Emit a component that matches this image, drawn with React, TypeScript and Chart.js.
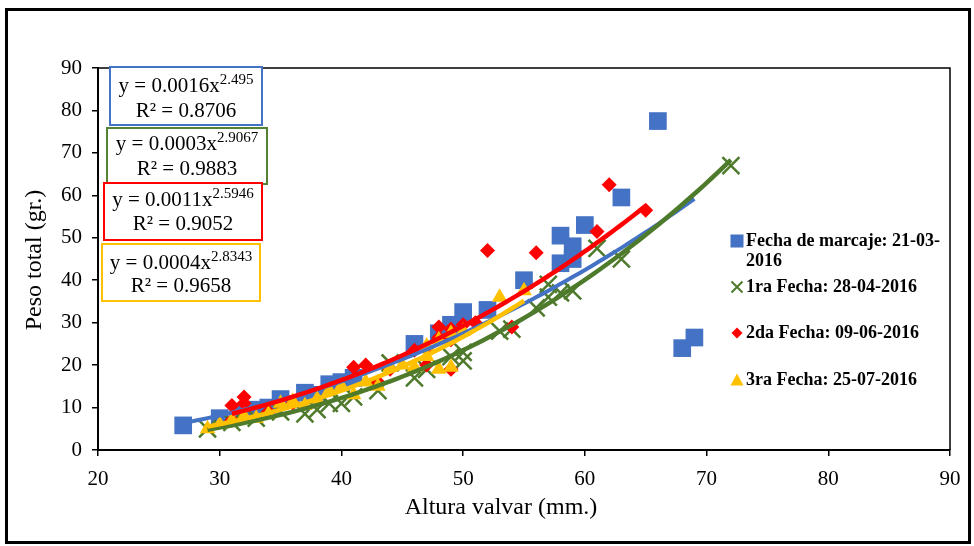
import React, { useEffect, useRef } from "react";
import { Chart, registerables } from "chart.js";
Chart.register(...registerables);

// ---- data ----
const blueX = [27, 30, 32, 33, 34, 35, 37, 38, 39, 40, 41, 46, 48, 49, 50, 52, 55, 58, 58, 59, 59, 60, 63, 66, 68, 69];
const blueY = [5.8, 7.5, 8.5, 9.5, 10, 12, 13.5, 13, 15.5, 16, 17, 25, 27.5, 29.5, 32.5, 33, 40, 44, 50.5, 48, 45, 53, 59.5, 77.5, 24, 26.5];

const greenX = [29, 31, 33, 35, 37, 38, 39, 40, 41, 43, 44, 46, 47, 49, 50, 50, 53, 54, 56, 57, 57, 58, 59, 61, 63, 72];
const greenY = [5, 6.5, 7.5, 9, 8.5, 9.5, 11, 11, 12.5, 14, 20.5, 17, 19, 22, 21, 23, 28, 28.5, 33.5, 36, 39, 37, 37.5, 47.5, 45, 67];

const redX = [31, 31, 32, 32, 34, 36, 41, 42, 43, 44, 46, 47, 47, 48, 48, 49, 49, 49, 50, 51, 52, 54, 56, 61, 62, 65];
const redY = [10.5, 7, 12.5, 11, 9, 11, 19.5, 20, 16, 19, 23.5, 24, 20, 29, 26.5, 28.5, 26, 19, 29.5, 30, 47, 29, 46.5, 51.5, 62.5, 56.5];

const yellowX = [29, 30, 31, 32, 33, 34, 35, 36, 37, 38, 39, 40, 41, 42, 43, 44, 45, 46, 47, 47, 48, 48, 49, 49, 50, 53, 55];
const yellowY = [5, 6, 7, 8, 7.5, 8.5, 11, 11.5, 10.5, 12, 14, 15, 13, 16, 15, 19.5, 20, 19.5, 24.5, 22, 19, 26, 19.5, 27.5, 28, 36, 37.5];

const seriesNames = [
  ["Fecha de marcaje: 21-03-", "2016"],
  ["1ra Fecha: 28-04-2016"],
  ["2da Fecha: 09-06-2016"],
  ["3ra Fecha: 25-07-2016"],
];
const eqCoef = ["0.0016", "0.0003", "0.0011", "0.0004"];
const eqExp = ["2.495", "2.9067", "2.5946", "2.8343"];
const eqR2 = ["0.8706", "0.9883", "0.9052", "0.9658"];

const xTicksMin = 20, xTicksMax = 90, yTicksMin = 0, yTicksMax = 90, tickStep = 10;
const xTitle = "Altura valvar (mm.)";
const yTitle = "Peso total (gr.)";

// ---- styles ----
const BLUE = "#4472C4";
const GREEN = "#4E7A2C";
const RED = "#FF0000";
const YELLOW = "#FFC000";
const SERIF = '"Liberation Serif", "Times New Roman", serif';

function pts(xs: number[], ys: number[]) {
  return xs.map((x, i) => ({ x, y: ys[i] }));
}

// power trendline (least squares in log-log space), like a spreadsheet power trendline
function powerTrend(xs: number[], ys: number[]) {
  const n = xs.length;
  let sx = 0, sy = 0, sxx = 0, sxy = 0;
  for (let i = 0; i < n; i++) {
    const lx = Math.log(xs[i]), ly = Math.log(ys[i]);
    sx += lx; sy += ly; sxx += lx * lx; sxy += lx * ly;
  }
  const b = (n * sxy - sx * sy) / (n * sxx - sx * sx);
  const a = Math.exp((sy - b * sx) / n);
  const lo = Math.min(...xs), hi = Math.max(...xs);
  const out: { x: number; y: number }[] = [];
  const steps = 80;
  for (let i = 0; i <= steps; i++) {
    const x = lo + ((hi - lo) * i) / steps;
    out.push({ x, y: a * Math.pow(x, b) });
  }
  return out;
}

const decorPlugin = {
  id: "decor",
  afterDraw(chart: any) {
    const ctx = chart.ctx as CanvasRenderingContext2D;
    const ca = chart.chartArea;
    ctx.save();
    // plot area top/right border
    ctx.strokeStyle = "#000";
    ctx.lineWidth = 1.5;
    ctx.beginPath();
    ctx.moveTo(ca.left, ca.top);
    ctx.lineTo(ca.right, ca.top);
    ctx.lineTo(ca.right, ca.bottom);
    ctx.stroke();

    // outer frame
    ctx.lineWidth = 3;
    ctx.strokeRect(6.5, 9.5, 963, 533);

    // axis titles
    ctx.fillStyle = "#000";
    ctx.font = `24px ${SERIF}`;
    ctx.textAlign = "center";
    ctx.textBaseline = "middle";
    ctx.fillText(xTitle, 501, 508);
    ctx.save();
    ctx.translate(35, 260);
    ctx.rotate(-Math.PI / 2);
    ctx.fillText(yTitle, 0, 0);
    ctx.restore();

    // equation boxes
    const boxes = [
      { x1: 110, y1: 67, x2: 262, y2: 125, c: BLUE, l1: 85, l2: 110 },
      { x1: 107, y1: 128, x2: 267, y2: 184, c: "#548235", l1: 143, l2: 168 },
      { x1: 104, y1: 183, x2: 262, y2: 240, c: RED, l1: 199, l2: 223 },
      { x1: 102, y1: 244, x2: 260, y2: 301, c: YELLOW, l1: 262, l2: 285 },
    ];
    boxes.forEach((b, i) => {
      ctx.fillStyle = "#fff";
      ctx.fillRect(b.x1, b.y1, b.x2 - b.x1, b.y2 - b.y1);
      ctx.strokeStyle = b.c;
      ctx.lineWidth = 2;
      ctx.strokeRect(b.x1, b.y1, b.x2 - b.x1, b.y2 - b.y1);
      const cx = (b.x1 + b.x2) / 2;
      ctx.fillStyle = "#000";
      ctx.textBaseline = "alphabetic";
      const main = `y = ${eqCoef[i]}x`;
      ctx.font = `21px ${SERIF}`;
      const w1 = ctx.measureText(main).width;
      ctx.font = `15px ${SERIF}`;
      const w2 = ctx.measureText(eqExp[i]).width;
      const start = cx - (w1 + w2) / 2;
      ctx.textAlign = "left";
      ctx.font = `21px ${SERIF}`;
      ctx.fillText(main, start, b.l1 + 7);
      ctx.font = `15px ${SERIF}`;
      ctx.fillText(eqExp[i], start + w1, b.l1 - 1);
      ctx.font = `21px ${SERIF}`;
      ctx.textAlign = "center";
      ctx.fillText(`R² = ${eqR2[i]}`, cx, b.l2 + 7);
    });

    // legend
    const lx = 737;
    const tx = 746;
    ctx.font = `bold 18px ${SERIF}`;
    ctx.textAlign = "left";
    ctx.textBaseline = "middle";
    ctx.fillStyle = "#000";
    const rows = [241, 287, 333, 380];
    ctx.fillStyle = BLUE;
    ctx.fillRect(lx - 6.5, rows[0] - 6.5, 13, 13);
    ctx.strokeStyle = GREEN;
    ctx.lineWidth = 2;
    ctx.beginPath();
    ctx.moveTo(lx - 5.5, rows[1] - 5.5); ctx.lineTo(lx + 5.5, rows[1] + 5.5);
    ctx.moveTo(lx + 5.5, rows[1] - 5.5); ctx.lineTo(lx - 5.5, rows[1] + 5.5);
    ctx.stroke();
    ctx.fillStyle = RED;
    ctx.beginPath();
    ctx.moveTo(lx, rows[2] - 5.5); ctx.lineTo(lx + 5.5, rows[2]);
    ctx.lineTo(lx, rows[2] + 5.5); ctx.lineTo(lx - 5.5, rows[2]);
    ctx.closePath(); ctx.fill();
    ctx.fillStyle = YELLOW;
    ctx.beginPath();
    ctx.moveTo(lx, rows[3] - 6.5); ctx.lineTo(lx + 6.5, rows[3] + 5.5);
    ctx.lineTo(lx - 6.5, rows[3] + 5.5);
    ctx.closePath(); ctx.fill();

    ctx.fillStyle = "#000";
    ctx.fillText(seriesNames[0][0], tx, rows[0]);
    ctx.fillText(seriesNames[0][1], tx, rows[0] + 20);
    ctx.fillText(seriesNames[1][0], tx, rows[1]);
    ctx.fillText(seriesNames[2][0], tx, rows[2]);
    ctx.fillText(seriesNames[3][0], tx, rows[3]);
    ctx.restore();
  },
};

export default function App() {
  const ref = useRef<HTMLCanvasElement | null>(null);
  useEffect(() => {
    if (!ref.current) return;
    const lineBase = { type: "scatter" as const, showLine: true, pointRadius: 0, borderWidth: 4.5, fill: false, tension: 0 };
    const chart = new Chart(ref.current, {
      type: "scatter",
      data: {
        datasets: [
          { ...lineBase, label: "t0", data: powerTrend(blueX, blueY), borderColor: BLUE, borderWidth: 4, order: 3 },
          { ...lineBase, label: "t1", data: powerTrend(greenX, greenY), borderColor: GREEN, order: 2 },
          { ...lineBase, label: "t2", data: powerTrend(redX, redY), borderColor: RED, order: 1 },
          { ...lineBase, label: "t3", data: powerTrend(yellowX, yellowY), borderColor: YELLOW, order: 0 },
          { label: seriesNames[0].join(""), data: pts(blueX, blueY), pointStyle: "rect", pointRadius: 12.5, backgroundColor: BLUE, borderColor: BLUE, borderWidth: 0, order: 7 },
          { label: seriesNames[1][0], data: pts(greenX, greenY), pointStyle: "crossRot", pointRadius: 12, backgroundColor: GREEN, borderColor: GREEN, borderWidth: 2.5, order: 6 },
          { label: seriesNames[2][0], data: pts(redX, redY), pointStyle: "rectRot", pointRadius: 7.5, backgroundColor: RED, borderColor: RED, borderWidth: 0, order: 5 },
          { label: seriesNames[3][0], data: pts(yellowX, yellowY), pointStyle: "triangle", pointRadius: 9, backgroundColor: YELLOW, borderColor: YELLOW, borderWidth: 0, order: 4 },
        ],
      },
      options: {
        animation: false,
        responsive: false,
        devicePixelRatio: 1,
        layout: { padding: { top: 68, right: 24, left: 0, bottom: 0 } },
        plugins: { legend: { display: false }, tooltip: { enabled: false }, title: { display: false } },
        scales: {
          x: {
            type: "linear",
            min: xTicksMin,
            max: xTicksMax,
            ticks: { stepSize: tickStep, color: "#000", font: { family: SERIF, size: 21 }, padding: 11, maxRotation: 0 },
            grid: { drawOnChartArea: false, drawTicks: true, tickLength: 6, color: "#000", lineWidth: 1.5 },
            border: { display: true, color: "#000", width: 2 },
            afterFit: (s: any) => { s.height = 96; },
          },
          y: {
            type: "linear",
            min: yTicksMin,
            max: yTicksMax,
            ticks: { stepSize: tickStep, color: "#000", font: { family: SERIF, size: 21 }, padding: 10 },
            grid: { drawOnChartArea: false, drawTicks: true, tickLength: 6, color: "#000", lineWidth: 1.5 },
            border: { display: true, color: "#000", width: 2 },
            afterFit: (s: any) => { s.width = 98; },
          },
        },
      } as any,
      plugins: [decorPlugin],
    });
    return () => chart.destroy();
  }, []);
  return (
    <div style={{ position: "absolute", left: 0, top: 0, width: 974, height: 546, background: "#fff" }}>
      <canvas ref={ref} width={974} height={546} style={{ display: "block" }} />
    </div>
  );
}
